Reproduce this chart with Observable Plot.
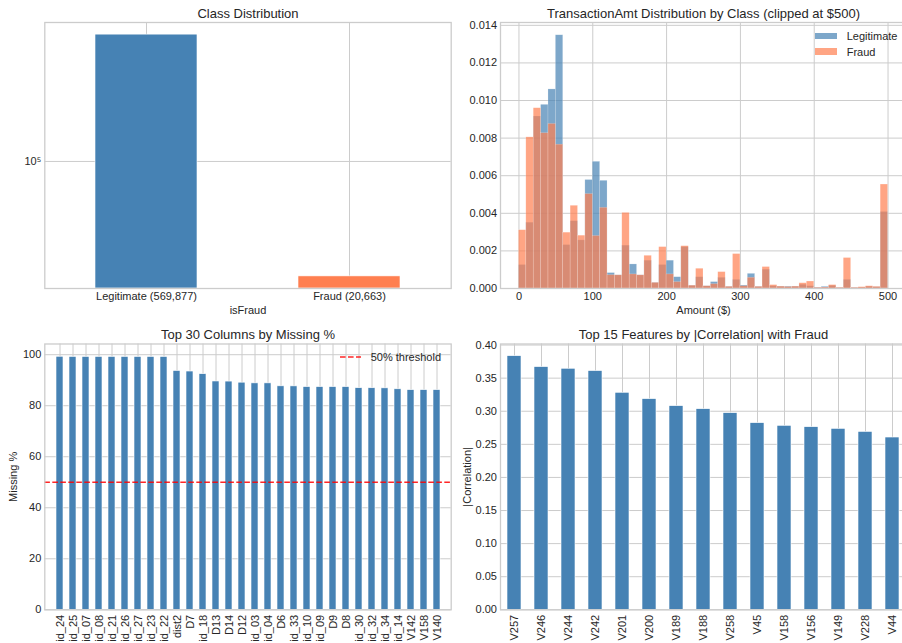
<!DOCTYPE html>
<html><head><meta charset="utf-8">
<script src="https://cdn.jsdelivr.net/npm/d3@7"></script>
<script src="https://cdn.jsdelivr.net/npm/@observablehq/plot@0.6"></script>
<style>
body{margin:0;background:#fff;}
#fig{position:relative;width:902px;height:643px;overflow:hidden;background:#fff;font-family:"Liberation Sans",Arial,sans-serif;color:#262626;}
.leg{position:absolute;font-size:11px;line-height:11px;white-space:nowrap;color:#262626;}
.sw{position:absolute;}
</style></head><body><div id="fig"></div>
<script>
// ---------- data ----------
const classNames = ["Legitimate", "Fraud"];
const classCounts = [569877, 20663];
const classColors = ["steelblue", "coral"];
const classYTicks = [100000];

const binStarts = [0,10,20,30,40,50,60,70,80,90,100,110,120,130,140,150,160,170,180,190,200,210,220,230,240,250,260,270,280,290,300,310,320,330,340,350,360,370,380,390,400,410,420,430,440,450,460,470,480,490];
const binWidth = 10;
const legitDensity = [1.25,3.5,9.15,9.77,10.59,13.47,2.31,3.58,2.56,5.77,6.74,5.73,0.82,0.7,2.28,1.28,0.7,1.48,0.3,1.25,1.48,0.6,2.2,0.15,0.6,0.12,0.34,0.57,0.09,0.46,0.16,0.78,0.09,1.0,0.12,0.1,0.1,0.1,0.2,0.12,0.05,0.09,0.14,0.04,0.46,0.04,0.04,0.09,0.07,4.07].map(v => v / 1000);
const fraudDensity = [3.10,8.04,9.59,8.26,8.75,7.65,2.97,4.40,2.81,5.02,2.79,4.29,0.71,0.7,4.02,0.75,0.7,1.74,0.3,2.2,0.75,0.34,2.25,0.15,1.05,0.12,0.23,0.87,0.09,1.83,0.12,0.57,0.09,1.14,0.18,0.1,0.08,0.1,0.28,0.37,0.04,0.05,0.18,0.04,1.62,0.04,0.07,0.12,0.09,5.53].map(v => v / 1000);
const amountTicks = [0,100,200,300,400,500];
const densityTicks = [0,0.002,0.004,0.006,0.008,0.010,0.012,0.014];

const missingCols = ["id_24","id_25","id_07","id_08","id_21","id_26","id_27","id_23","id_22","dist2","D7","id_18","D13","D14","D12","id_03","id_04","D6","id_33","id_10","id_09","D9","D8","id_30","id_32","id_34","id_14","V142","V158","V140"];
const missingPct = [99.2,99.13,99.13,99.13,99.13,99.13,99.12,99.12,99.12,93.63,93.41,92.36,89.51,89.47,89.04,88.77,88.77,87.61,87.59,87.31,87.31,87.31,87.31,86.87,86.86,86.82,86.45,86.12,86.12,86.12];
const missingTicks = [0,20,40,60,80,100];
const threshold = [50];

const corrFeatures = ["V257","V246","V244","V242","V201","V200","V189","V188","V258","V45","V158","V156","V149","V228","V44"];
const corrValues = [0.3832,0.3667,0.3642,0.3607,0.3279,0.3183,0.3077,0.3031,0.2971,0.2820,0.2780,0.2759,0.2734,0.2688,0.2603];
const corrTicks = [0,0.05,0.10,0.15,0.20,0.25,0.30,0.35,0.40];

// ---------- styling ----------
const FONT = '"Liberation Sans", Arial, sans-serif';
const TXT = "#262626", GRID = "#cccccc";
const fig = document.getElementById("fig");
const baseStyle = {fontFamily: FONT, fontSize: "11px", color: TXT, background: "transparent", overflow: "visible", maxWidth: "none"};
function place(svg, left, top) {
  svg.style.position = "absolute";
  svg.style.left = left + "px";
  svg.style.top = top + "px";
  fig.appendChild(svg);
}

// ---------- panel 1: class distribution (log) ----------
const classRows = classNames.map((n, i) => ({name: n, count: classCounts[i], color: classColors[i]}));
const classYDomain = [17500, 673000];
const p1 = Plot.plot({
  width: 455, height: 320,
  marginLeft: 44.3, marginRight: 4.3, marginTop: 22, marginBottom: 32,
  style: baseStyle,
  x: {type: "band", domain: classNames, paddingInner: 0.5, paddingOuter: 0.25},
  y: {type: "log", domain: classYDomain},
  color: {type: "identity"},
  marks: [
    Plot.ruleX(classNames, {x: d => d, stroke: GRID, strokeWidth: 1}),
    Plot.ruleY(classYTicks, {y: d => d, stroke: GRID, strokeWidth: 1}),
    Plot.barY(classRows, {x: "name", y1: classYDomain[0], y2: "count", fill: "color", stroke: "white", strokeWidth: 0.6}),
    Plot.frame({stroke: GRID, strokeWidth: 1.3}),
    Plot.axisX({tickSize: 0, tickPadding: 4, fontSize: 11, label: null,
      tickFormat: d => `${d} (${d3.format(",")(classCounts[classNames.indexOf(d)])})`}),
    Plot.axisY(classYTicks, {tickSize: 0, tickPadding: 3.5, fontSize: 11, label: null, tickFormat: () => "10⁵"}),
    Plot.text(["Class Distribution"], {text: d => d, frameAnchor: "top", lineAnchor: "bottom", dy: -4.7, fontSize: 13}),
    Plot.text(["isFraud"], {text: d => d, frameAnchor: "bottom", lineAnchor: "bottom", dy: 25.3, fontSize: 11})
  ]
});
place(p1, 0, 0);

// ---------- panel 2: histogram ----------
const legitRows = binStarts.map((b, i) => ({lo: b, hi: b + binWidth, v: legitDensity[i]}));
const fraudRows = binStarts.map((b, i) => ({lo: b, hi: b + binWidth, v: fraudDensity[i]}));
const p2 = Plot.plot({
  width: 460, height: 320,
  marginLeft: 45, marginRight: 9, marginTop: 22, marginBottom: 32,
  style: baseStyle,
  x: {domain: [-25, 525]},
  y: {domain: [0, 0.01415]},
  marks: [
    Plot.ruleX(amountTicks, {x: d => d, stroke: GRID, strokeWidth: 1}),
    Plot.ruleY(densityTicks, {y: d => d, stroke: GRID, strokeWidth: 1}),
    Plot.rect(legitRows, {x1: "lo", x2: "hi", y1: 0, y2: "v", fill: "steelblue", fillOpacity: 0.7, stroke: "white", strokeOpacity: 0.35, strokeWidth: 0.5}),
    Plot.rect(fraudRows, {x1: "lo", x2: "hi", y1: 0, y2: "v", fill: "coral", fillOpacity: 0.7, stroke: "white", strokeOpacity: 0.35, strokeWidth: 0.5}),
    Plot.frame({stroke: GRID, strokeWidth: 1.3}),
    Plot.axisX(amountTicks, {tickSize: 0, tickPadding: 4, fontSize: 11, label: null, tickFormat: d => String(d)}),
    Plot.axisY(densityTicks, {tickSize: 0, tickPadding: 3.5, fontSize: 11, label: null, tickFormat: d3.format(".3f")}),
    Plot.text(["TransactionAmt Distribution by Class (clipped at $500)"], {text: d => d, frameAnchor: "top", lineAnchor: "bottom", dy: -4.7, fontSize: 13}),
    Plot.text(["Amount ($)"], {text: d => d, frameAnchor: "bottom", lineAnchor: "bottom", dy: 25.5, fontSize: 11})
  ]
});
place(p2, 455, 0);

// ---------- panel 3: missing % ----------
const missRows = missingCols.map((c, i) => ({col: c, pct: missingPct[i]}));
const p3 = Plot.plot({
  width: 455, height: 323,
  marginLeft: 44.3, marginRight: 4.3, marginTop: 23.5, marginBottom: 33.7,
  style: baseStyle,
  x: {type: "band", domain: missingCols, paddingInner: 0.5, paddingOuter: 0.25},
  y: {domain: [0, 104.2]},
  marks: [
    Plot.ruleX(missingCols, {x: d => d, stroke: GRID, strokeWidth: 1}),
    Plot.ruleY(missingTicks, {y: d => d, stroke: GRID, strokeWidth: 1}),
    Plot.barY(missRows, {x: "col", y: "pct", fill: "steelblue", stroke: "white", strokeWidth: 0.6}),
    Plot.ruleY(threshold, {y: d => d, stroke: "red", strokeOpacity: 0.85, strokeWidth: 1.65, strokeDasharray: "5.6,2.4"}),
    Plot.frame({stroke: GRID, strokeWidth: 1.3}),
    Plot.axisX({tickSize: 0, tickPadding: 5, tickRotate: -90, fontSize: 11, label: null}),
    Plot.axisY(missingTicks, {tickSize: 0, tickPadding: 3.5, fontSize: 11, label: null, tickFormat: d => String(d)}),
    Plot.text(["Top 30 Columns by Missing %"], {text: d => d, frameAnchor: "top", lineAnchor: "bottom", dy: -5.5, fontSize: 13}),
    Plot.text(["Missing %"], {text: d => d, frameAnchor: "left", rotate: -90, textAnchor: "middle", lineAnchor: "bottom", dx: -28.1, fontSize: 11})
  ]
});
place(p3, 0, 320);

// ---------- panel 4: correlation ----------
const corrRows = corrFeatures.map((f, i) => ({feat: f, corr: corrValues[i]}));
const p4 = Plot.plot({
  width: 460, height: 323,
  marginLeft: 45, marginRight: 9, marginTop: 23.5, marginBottom: 33.7,
  style: baseStyle,
  x: {type: "band", domain: corrFeatures, paddingInner: 0.5, paddingOuter: 0.25},
  y: {domain: [0, 0.4016]},
  marks: [
    Plot.ruleX(corrFeatures, {x: d => d, stroke: GRID, strokeWidth: 1}),
    Plot.ruleY(corrTicks, {y: d => d, stroke: GRID, strokeWidth: 1}),
    Plot.barY(corrRows, {x: "feat", y: "corr", fill: "steelblue", stroke: "white", strokeWidth: 0.6}),
    Plot.frame({stroke: GRID, strokeWidth: 1.3}),
    Plot.axisX({tickSize: 0, tickPadding: 5, tickRotate: -90, fontSize: 11, label: null}),
    Plot.axisY(corrTicks, {tickSize: 0, tickPadding: 3.5, fontSize: 11, label: null, tickFormat: d3.format(".2f")}),
    Plot.text(["Top 15 Features by |Correlation| with Fraud"], {text: d => d, frameAnchor: "top", lineAnchor: "bottom", dy: -5.5, fontSize: 13}),
    Plot.text(["|Correlation|"], {text: d => d, frameAnchor: "left", rotate: -90, textAnchor: "middle", lineAnchor: "bottom", dx: -29.5, fontSize: 11})
  ]
});
place(p4, 455, 320);

// ---------- legends ----------
function swatch(left, top, w, h, bg) {
  const d = document.createElement("div");
  d.className = "sw";
  Object.assign(d.style, {left: left + "px", top: top + "px", width: w + "px", height: h + "px", background: bg});
  fig.appendChild(d);
}
function label(left, top, txt) {
  const d = document.createElement("div");
  d.className = "leg";
  d.style.left = left + "px";
  d.style.top = top + "px";
  d.textContent = txt;
  fig.appendChild(d);
}
swatch(815, 32.7, 22.3, 6.8, "rgba(70,130,180,0.7)");
label(846.7, 31.2, "Legitimate");
swatch(815, 48.3, 22.3, 6.8, "rgba(255,127,80,0.7)");
label(846.7, 46.6, "Fraud");

const dash = document.createElementNS("http://www.w3.org/2000/svg", "svg");
dash.setAttribute("width", 24); dash.setAttribute("height", 6);
Object.assign(dash.style, {position: "absolute", left: "339px", top: "354px"});
const ln = document.createElementNS("http://www.w3.org/2000/svg", "line");
ln.setAttribute("x1", 1); ln.setAttribute("x2", 22); ln.setAttribute("y1", 3); ln.setAttribute("y2", 3);
ln.setAttribute("stroke", "red"); ln.setAttribute("stroke-opacity", 0.85);
ln.setAttribute("stroke-width", 1.65); ln.setAttribute("stroke-dasharray", "5.6,2.4");
dash.appendChild(ln);
fig.appendChild(dash);
label(370.7, 351.6, "50% threshold");
</script></body></html>
